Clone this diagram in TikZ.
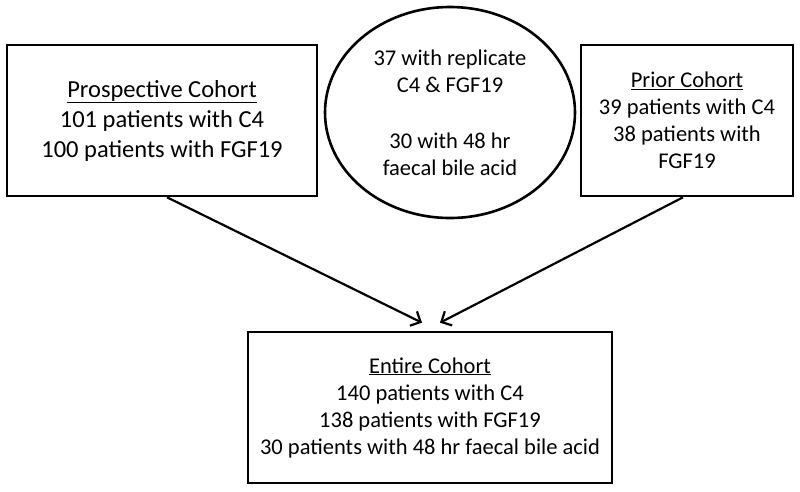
\documentclass[tikz,border=0pt]{standalone}
\usepackage{fontspec}
\setmainfont{Carlito}
\usepackage{tikz}
\usetikzlibrary{shapes.geometric,arrows.meta,positioning}

\begin{document}
\begin{tikzpicture}[x=1pt,y=-1pt,
    cohortbox/.style={draw,line width=2.6pt,align=center,inner sep=0pt,
        font=\fontsize{22.5}{27}\selectfont},
    overlap/.style={draw,ellipse,line width=2.6pt,inner sep=0pt},
    flowarrow/.style={line width=2.2pt,-{Straight Barb[length=8pt,width=16pt]}}]
    \useasboundingbox (0,0) rectangle (800,491);
    % cohorts at the top
    \node[cohortbox,minimum width=310pt,minimum height=151pt,
        font=\fontsize{24.5}{30}\selectfont] (prosp) at (162,120.5)
        {\underline{Prospective Cohort}\\101 patients with C4\\100 patients with FGF19};
    \node[overlap,minimum width=250pt,minimum height=211pt] (overlap) at (450,112.5) {};
    \node[align=center,inner sep=0pt,font=\fontsize{22.5}{27}\selectfont] (overlaptext) at (overlap.center)
        {37 with replicate\\C4 \& FGF19\\[29pt]30 with 48 hr\\faecal bile acid};
    \node[cohortbox,minimum width=212pt,minimum height=151pt] (prior) at (687,120.5)
        {\underline{Prior Cohort}\\39 patients with C4\\38 patients with\\FGF19};
    % combined cohort
    \node[cohortbox,minimum width=364pt,minimum height=151pt] (entire) at (430,407.5)
        {\underline{Entire Cohort}\\140 patients with C4\\138 patients with FGF19\\30 patients with 48 hr faecal bile acid};
    \draw[flowarrow] ([xshift=5pt]prosp.south) -- ([xshift=-8pt,yshift=8pt]entire.north);
    \draw[flowarrow] ([xshift=-4pt]prior.south) -- ([xshift=10pt,yshift=8pt]entire.north);
\end{tikzpicture}
\end{document}
